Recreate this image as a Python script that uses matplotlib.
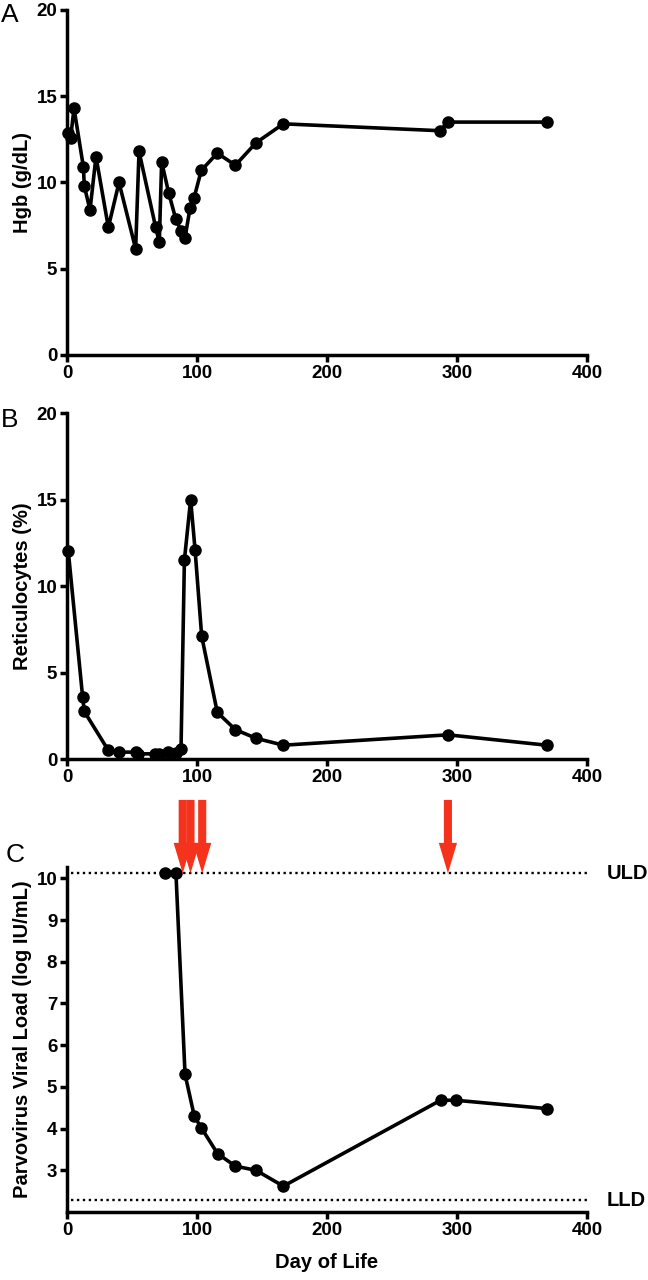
import matplotlib
matplotlib.use("Agg")
import matplotlib.pyplot as plt

plt.rcParams['font.family'] = ['Liberation Sans', 'DejaVu Sans']
plt.rcParams['font.weight'] = 'bold'

# Panel A - hemoglobin
hgb_day = [1, 2.8, 5.4, 12.6, 13.3, 17.7, 22.3, 31.8, 40, 52.8, 55.4, 68.2, 71, 72.8,
           78.2, 83.6, 87.7, 90.8, 94.6, 97.7, 103.3, 115.6, 129.5, 145.4, 166.4, 287, 293, 369]
hgb = [12.85, 12.6, 14.3, 10.9, 9.8, 8.4, 11.5, 7.4, 10.0, 6.15, 11.8, 7.4, 6.55, 11.2,
       9.4, 7.9, 7.2, 6.8, 8.5, 9.1, 10.7, 11.7, 11.0, 12.3, 13.4, 13.0, 13.5, 13.5]

# Panel B - reticulocytes
retic_day = [1, 12, 13.3, 31.8, 40, 52.8, 54.9, 68, 71, 78, 83.6, 87.7, 90.3, 95.1,
             98.5, 103.6, 115.6, 129.5, 145.4, 166.4, 293, 369]
retic = [12.0, 3.6, 2.75, 0.5, 0.4, 0.4, 0.3, 0.3, 0.3, 0.4, 0.35, 0.6, 11.5, 15.0,
         12.1, 7.1, 2.7, 1.7, 1.2, 0.8, 1.4, 0.8]

# Panel C - viral load
vl_day = [75.4, 83.8, 90.8, 97.9, 103.3, 115.8, 129.5, 145.4, 166.4, 287.4, 299, 369]
vl = [10.12, 10.12, 5.3, 4.3, 4.02, 3.4, 3.1, 3.0, 2.62, 4.68, 4.68, 4.48]
uld = 10.12
lld = 2.28
arrow_days = [89, 95, 104, 293]

fig = plt.figure(figsize=(6.48, 12.8), dpi=100)
axA = fig.add_axes([0.1034, 0.7227, 0.8025, 0.2695])
axB = fig.add_axes([0.1034, 0.4070, 0.8025, 0.2703])
axC = fig.add_axes([0.1034, 0.0531, 0.8025, 0.2695])

def style(ax):
    for s in ['top', 'right']:
        ax.spines[s].set_visible(False)
    for s in ['left', 'bottom']:
        ax.spines[s].set_linewidth(2.5)
    ax.tick_params(width=2.5, length=5, labelsize=13.5, pad=2)
    ax.set_xlim(0, 400)
    ax.set_xticks([0, 100, 200, 300, 400])
    for lab in ax.get_xticklabels() + ax.get_yticklabels():
        lab.set_fontweight('bold')

line_kw = dict(color='black', lw=2.6, marker='o', ms=8, clip_on=False, zorder=5)

axA.plot(hgb_day, hgb, **line_kw)
axA.set_ylim(0, 20)
axA.set_yticks([0, 5, 10, 15, 20])
axA.set_ylabel('Hgb (g/dL)', fontsize=14.5, fontweight='bold', labelpad=3)
style(axA)

axB.plot(retic_day, retic, **line_kw)
axB.set_ylim(0, 20)
axB.set_yticks([0, 5, 10, 15, 20])
axB.set_ylabel('Reticulocytes (%)', fontsize=14.5, fontweight='bold', labelpad=3)
style(axB)

axC.plot(vl_day, vl, **line_kw)
axC.plot([3, 400], [uld, uld], color='black', lw=1.7, ls=(0, (1, 1.5)))
axC.plot([3, 400], [lld, lld], color='black', lw=1.7, ls=(0, (1, 1.5)))
axC.set_ylim(2.0, 10.27)
axC.set_yticks([3, 4, 5, 6, 7, 8, 9, 10])
axC.set_ylabel('Parvovirus Viral Load (log IU/mL)', fontsize=14.5, fontweight='bold', labelpad=3)
axC.set_xlabel('Day of Life', fontsize=14.5, fontweight='bold', labelpad=10)
style(axC)
axC.text(415, uld, 'ULD', fontsize=14.5, fontweight='bold', va='center', ha='left')
axC.text(415, lld, 'LLD', fontsize=14.5, fontweight='bold', va='center', ha='left')

for d in arrow_days:
    axC.arrow(d, 11.88, 0, uld - 11.88, width=6.2, head_width=14, head_length=0.73,
              length_includes_head=True, color='#f5321c', lw=0, clip_on=False, zorder=6)

fig.text(1 / 648, 1 - 15 / 1280, 'A', fontsize=19, fontweight='normal', va='center', ha='left')
fig.text(1 / 648, 1 - 420 / 1280, 'B', fontsize=19, fontweight='normal', va='center', ha='left')
fig.text(6 / 648, 1 - 855 / 1280, 'C', fontsize=19, fontweight='normal', va='center', ha='left')

fig.savefig('out.png', dpi=100)
